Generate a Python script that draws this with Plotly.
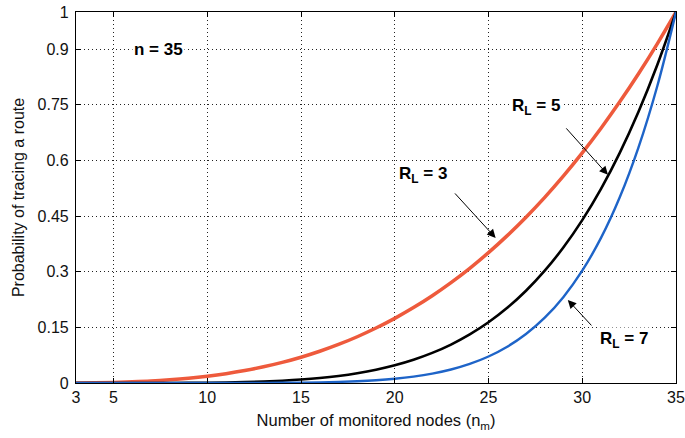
import plotly.graph_objects as go

nm = list(range(3, 36))

p_rl3 = [0.00015, 0.0006, 0.0015, 0.0031, 0.0053, 0.0086, 0.0128, 0.0183, 0.0252, 0.0336,
         0.0437, 0.0556, 0.0695, 0.0856, 0.1039, 0.1247, 0.1481, 0.1742, 0.2032, 0.2353,
         0.2706, 0.3092, 0.3514, 0.3972, 0.4469, 0.5005, 0.5583, 0.6203, 0.6868, 0.7578,
         0.8336, 0.9143, 1.0]
p_rl5 = [0.0, 0.0, 0.000003, 0.00002, 0.00006, 0.00017, 0.00039, 0.00078, 0.00142, 0.00244,
         0.00396, 0.00617, 0.00925, 0.01346, 0.01906, 0.02639, 0.03582, 0.04776, 0.06268, 0.08112,
         0.10365, 0.13093, 0.16366, 0.20263, 0.24868, 0.30274, 0.36581, 0.43898, 0.52340, 0.62032,
         0.73109, 0.85714, 1.0]
p_rl7 = [0.0, 0.0, 0.0, 0.0, 0.0000001, 0.000001, 0.000005, 0.000018, 0.000049, 0.000118,
         0.000255, 0.00051, 0.000957, 0.00170, 0.00289, 0.00473, 0.00749, 0.01153, 0.01729, 0.02536,
         0.03646, 0.05147, 0.07148, 0.09782, 0.13206, 0.17608, 0.23210, 0.30274, 0.39105, 0.50054,
         0.63529, 0.80000, 1.0]

x_ticks = [3, 5, 10, 15, 20, 25, 30, 35]
y_ticks = [0, 0.15, 0.3, 0.45, 0.6, 0.75, 0.9, 1]
y_tick_labels = ["0", "0.15", "0.3", "0.45", "0.6", "0.75", "0.9", "1"]

fig = go.Figure()
fig.add_trace(go.Scatter(x=nm, y=p_rl3, mode="lines", line=dict(color="#EE5A3C", width=3.5, shape="spline"), showlegend=False))
fig.add_trace(go.Scatter(x=nm, y=p_rl5, mode="lines", line=dict(color="#000000", width=2.6, shape="spline"), showlegend=False))
fig.add_trace(go.Scatter(x=nm, y=p_rl7, mode="lines", line=dict(color="#1E64C8", width=2.4, shape="spline"), showlegend=False))

font = dict(family="Liberation Sans, Arial, sans-serif", size=16, color="#111111")
grid = dict(showgrid=True, gridcolor="#222222", griddash="1px,3px", gridwidth=1.3, zeroline=False)

fig.update_layout(
    width=685, height=438,
    margin=dict(l=76, r=9, t=12, b=55, autoexpand=False),
    paper_bgcolor="white", plot_bgcolor="white",
    font=font,
    xaxis=dict(range=[3, 35], tickvals=x_ticks, ticks="inside", ticklen=5, tickcolor="black",
               ticklabeloverflow="allow", automargin=False,
               showline=True, linecolor="black", linewidth=1.2, mirror="ticks",
               title=dict(text="Number of monitored nodes (n<sub>m</sub>)", standoff=9,
                          font=dict(size=16.5)), **grid),
    yaxis=dict(range=[0, 1], tickvals=y_ticks, ticktext=y_tick_labels, ticks="inside", ticklen=5, tickcolor="black",
               ticklabelstandoff=3, ticklabeloverflow="allow", automargin=False,
               showline=True, linecolor="black", linewidth=1.2, mirror="ticks",
               title=dict(text="Probability of tracing a route", standoff=8,
                          font=dict(size=16)), **grid),
)

arrow_common = dict(showarrow=True, arrowhead=2, arrowsize=1.7, arrowwidth=1, arrowcolor="black", text="")
fig.add_annotation(x=25.38, y=0.391, ax=-42, ay=-46, **arrow_common)
fig.add_annotation(x=31.37, y=0.561, ax=-43, ay=-48, **arrow_common)
fig.add_annotation(x=29.23, y=0.224, ax=25, ay=27, **arrow_common)

label_font = dict(family="Liberation Sans, Arial, sans-serif", size=17, color="black")
fig.add_annotation(x=21.48, y=0.561, text="<b>R<sub>L</sub> = 3</b>", showarrow=False, font=label_font, bgcolor="white")
fig.add_annotation(x=27.52, y=0.744, text="<b>R<sub>L</sub> = 5</b>", showarrow=False, font=label_font, bgcolor="white")
fig.add_annotation(x=32.22, y=0.116, text="<b>R<sub>L</sub> = 7</b>", showarrow=False, font=label_font, bgcolor="white")
fig.add_annotation(x=7.38, y=0.9, text="<b>n = 35</b>", showarrow=False, bgcolor="white",
                   font=dict(family="Liberation Sans, Arial, sans-serif", size=17, color="black"))

fig.write_html("out.html", config={"displayModeBar": False},
               post_script="document.body.style.margin='0';document.body.style.overflow='hidden';")
